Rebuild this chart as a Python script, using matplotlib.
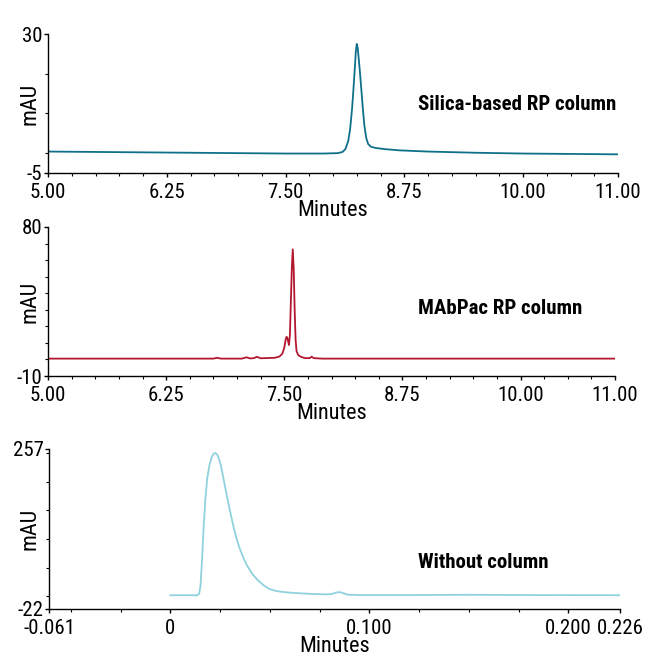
import numpy as np
import matplotlib
matplotlib.use("Agg")
import matplotlib.pyplot as plt
from matplotlib import font_manager

# pick a narrow sans if one is installed
installed = {f.name for f in font_manager.fontManager.ttflist}
narrow = None
for name in ['Liberation Sans Narrow', 'DejaVu Sans Condensed', 'Roboto Condensed',
             'Noto Sans Condensed', 'Open Sans Condensed']:
    if name in installed:
        narrow = name
        break
if narrow:
    plt.rcParams['font.family'] = [narrow, 'DejaVu Sans']
    fs_tick, fs_lab, fs_note = 15, 16, 15
else:
    plt.rcParams['font.family'] = ['Liberation Sans', 'DejaVu Sans']
    fs_tick, fs_lab, fs_note = 13, 13, 12.5

# silica-based RP column trace (minutes, mAU)
silica_t = [5.00, 5.50, 6.00, 6.50, 7.00, 7.50, 7.90, 8.05, 8.10, 8.13, 8.16, 8.18,
            8.20, 8.215, 8.23, 8.24, 8.25, 8.26, 8.27, 8.285, 8.30, 8.315, 8.33,
            8.35, 8.37, 8.40, 8.45, 8.55, 8.70, 9.00, 9.50, 10.00, 10.50, 11.00]
silica_y = [0.4, 0.3, 0.2, 0.1, 0.0, -0.1, -0.1, 0.0, 0.3, 1.0, 3.0, 6.0,
            11.0, 16.0, 21.5, 25.5, 27.5, 26.5, 24.0, 20.0, 15.5, 11.0, 7.0,
            3.8, 2.3, 1.6, 1.3, 1.0, 0.7, 0.4, 0.1, -0.1, -0.2, -0.3]

# MAbPac RP column trace
mabpac_t = [5.00, 5.50, 6.00, 6.50, 6.75, 6.79, 6.83, 7.05, 7.10, 7.14, 7.18, 7.21,
            7.25, 7.40, 7.45, 7.48, 7.50, 7.515, 7.525, 7.535, 7.55, 7.56, 7.57,
            7.58, 7.59, 7.60, 7.61, 7.62, 7.63, 7.65, 7.68, 7.72, 7.77, 7.79, 7.81,
            7.90, 8.50, 9.50, 11.00]
mabpac_y = [0.5, 0.5, 0.5, 0.5, 0.5, 1.0, 0.5, 0.5, 1.3, 0.6, 0.8, 1.6,
            0.7, 1.0, 1.8, 3.5, 7.0, 12.0, 13.7, 12.5, 8.7, 15.0, 35.0,
            55.0, 66.5, 55.0, 30.0, 12.0, 5.0, 2.5, 1.5, 0.8, 0.8, 1.7, 0.8,
            0.5, 0.5, 0.5, 0.5]

# without column trace
nocol_t = [0.000, 0.005, 0.010, 0.0136, 0.0145, 0.0152, 0.0160, 0.0168, 0.0176,
           0.0185, 0.0196, 0.0208, 0.0218, 0.0226, 0.0236, 0.0246, 0.0256, 0.0270,
           0.0283, 0.0296, 0.0315, 0.0330, 0.0347, 0.0365, 0.0385, 0.0412, 0.0440,
           0.0470, 0.0497, 0.0530, 0.0570, 0.0620, 0.0700, 0.0780, 0.0810, 0.0830,
           0.0850, 0.0870, 0.0890, 0.0950, 0.1200, 0.1500, 0.1800, 0.2260]
nocol_y = [2, 2, 2, 2, 5, 20, 70, 125, 170,
           205, 228, 243, 249, 250, 247, 238, 225, 200,
           177, 155, 125, 104, 85, 69, 54, 39, 28,
           19, 13, 9.5, 7.5, 6, 4.5, 3.5, 4, 6.5,
           7.5, 5.5, 3, 2.3, 2.3, 2.8, 2.3, 2]

panels = [
    dict(t=silica_t, y=silica_y, color='#10708a', label='Silica-based RP column',
         xlim=(5.0, 11.0), ylim=(-5, 30),
         xticks=[5.0, 6.25, 7.5, 8.75, 10.0, 11.0],
         xlabels=['5.00', '6.25', '7.50', '8.75', '10.00', '11.00'],
         xminor=np.arange(5.0, 11.01, 0.25), yminor=[0, 10, 20],
         box=[48, 34, 618, 173], label_y=105),
    dict(t=mabpac_t, y=mabpac_y, color='#b3182f', label='MAbPac RP column',
         xlim=(5.0, 11.0), ylim=(-10, 80),
         xticks=[5.0, 6.25, 7.5, 8.75, 10.0, 11.0],
         xlabels=['5.00', '6.25', '7.50', '8.75', '10.00', '11.00'],
         xminor=np.arange(5.0, 11.01, 0.25), yminor=np.arange(0, 71, 10),
         box=[48, 227, 615, 376], label_y=308),
    dict(t=nocol_t, y=nocol_y, color='#8fd2de', label='Without column',
         xlim=(-0.061, 0.226), ylim=(-22, 257),
         xticks=[-0.061, 0, 0.1, 0.2, 0.226],
         xlabels=['-0.061', '0', '0.100', '0.200', '0.226'],
         xminor=[-0.05, -0.025, 0.025, 0.05, 0.075, 0.125, 0.15, 0.175],
         yminor=np.arange(0, 251, 50),
         box=[49, 449, 620, 609], label_y=563),
]

W, H = 645, 657
fig = plt.figure(figsize=(W / 100, H / 100), dpi=100)

for p in panels:
    x0, y0, x1, y1 = p['box']
    ax = fig.add_axes([x0 / W, 1 - y1 / H, (x1 - x0) / W, (y1 - y0) / H])
    ax.plot(p['t'], p['y'], color=p['color'], lw=1.3)
    ax.set_xlim(*p['xlim'])
    ax.set_ylim(*p['ylim'])
    for s in ['top', 'right']:
        ax.spines[s].set_visible(False)
    for s in ['left', 'bottom']:
        ax.spines[s].set_linewidth(1.0)
    ax.set_xticks(p['xticks'])
    ax.set_xticklabels(p['xlabels'])
    ax.set_xticks(p['xminor'], minor=True)
    ax.set_yticks(list(p['ylim']))
    ax.set_yticklabels([str(v) for v in p['ylim']])
    ax.set_yticks(p['yminor'], minor=True)
    ax.tick_params(which='major', length=3, width=1.0, labelsize=fs_tick, pad=1)
    ax.tick_params(axis='x', which='major', pad=4.5)
    ax.tick_params(which='minor', length=2, width=0.8)
    ax.set_xlabel('Minutes', fontsize=fs_lab, labelpad=-2)
    fig.text(30 / W, 1 - (y0 + y1) / 2 / H, 'mAU', rotation=90, fontsize=fs_lab,
             ha='center', va='center')
    fig.text(418 / W, 1 - p['label_y'] / H, p['label'], fontsize=fs_note,
             fontweight='bold', ha='left', va='center')

fig.savefig('out.png', dpi=100)
